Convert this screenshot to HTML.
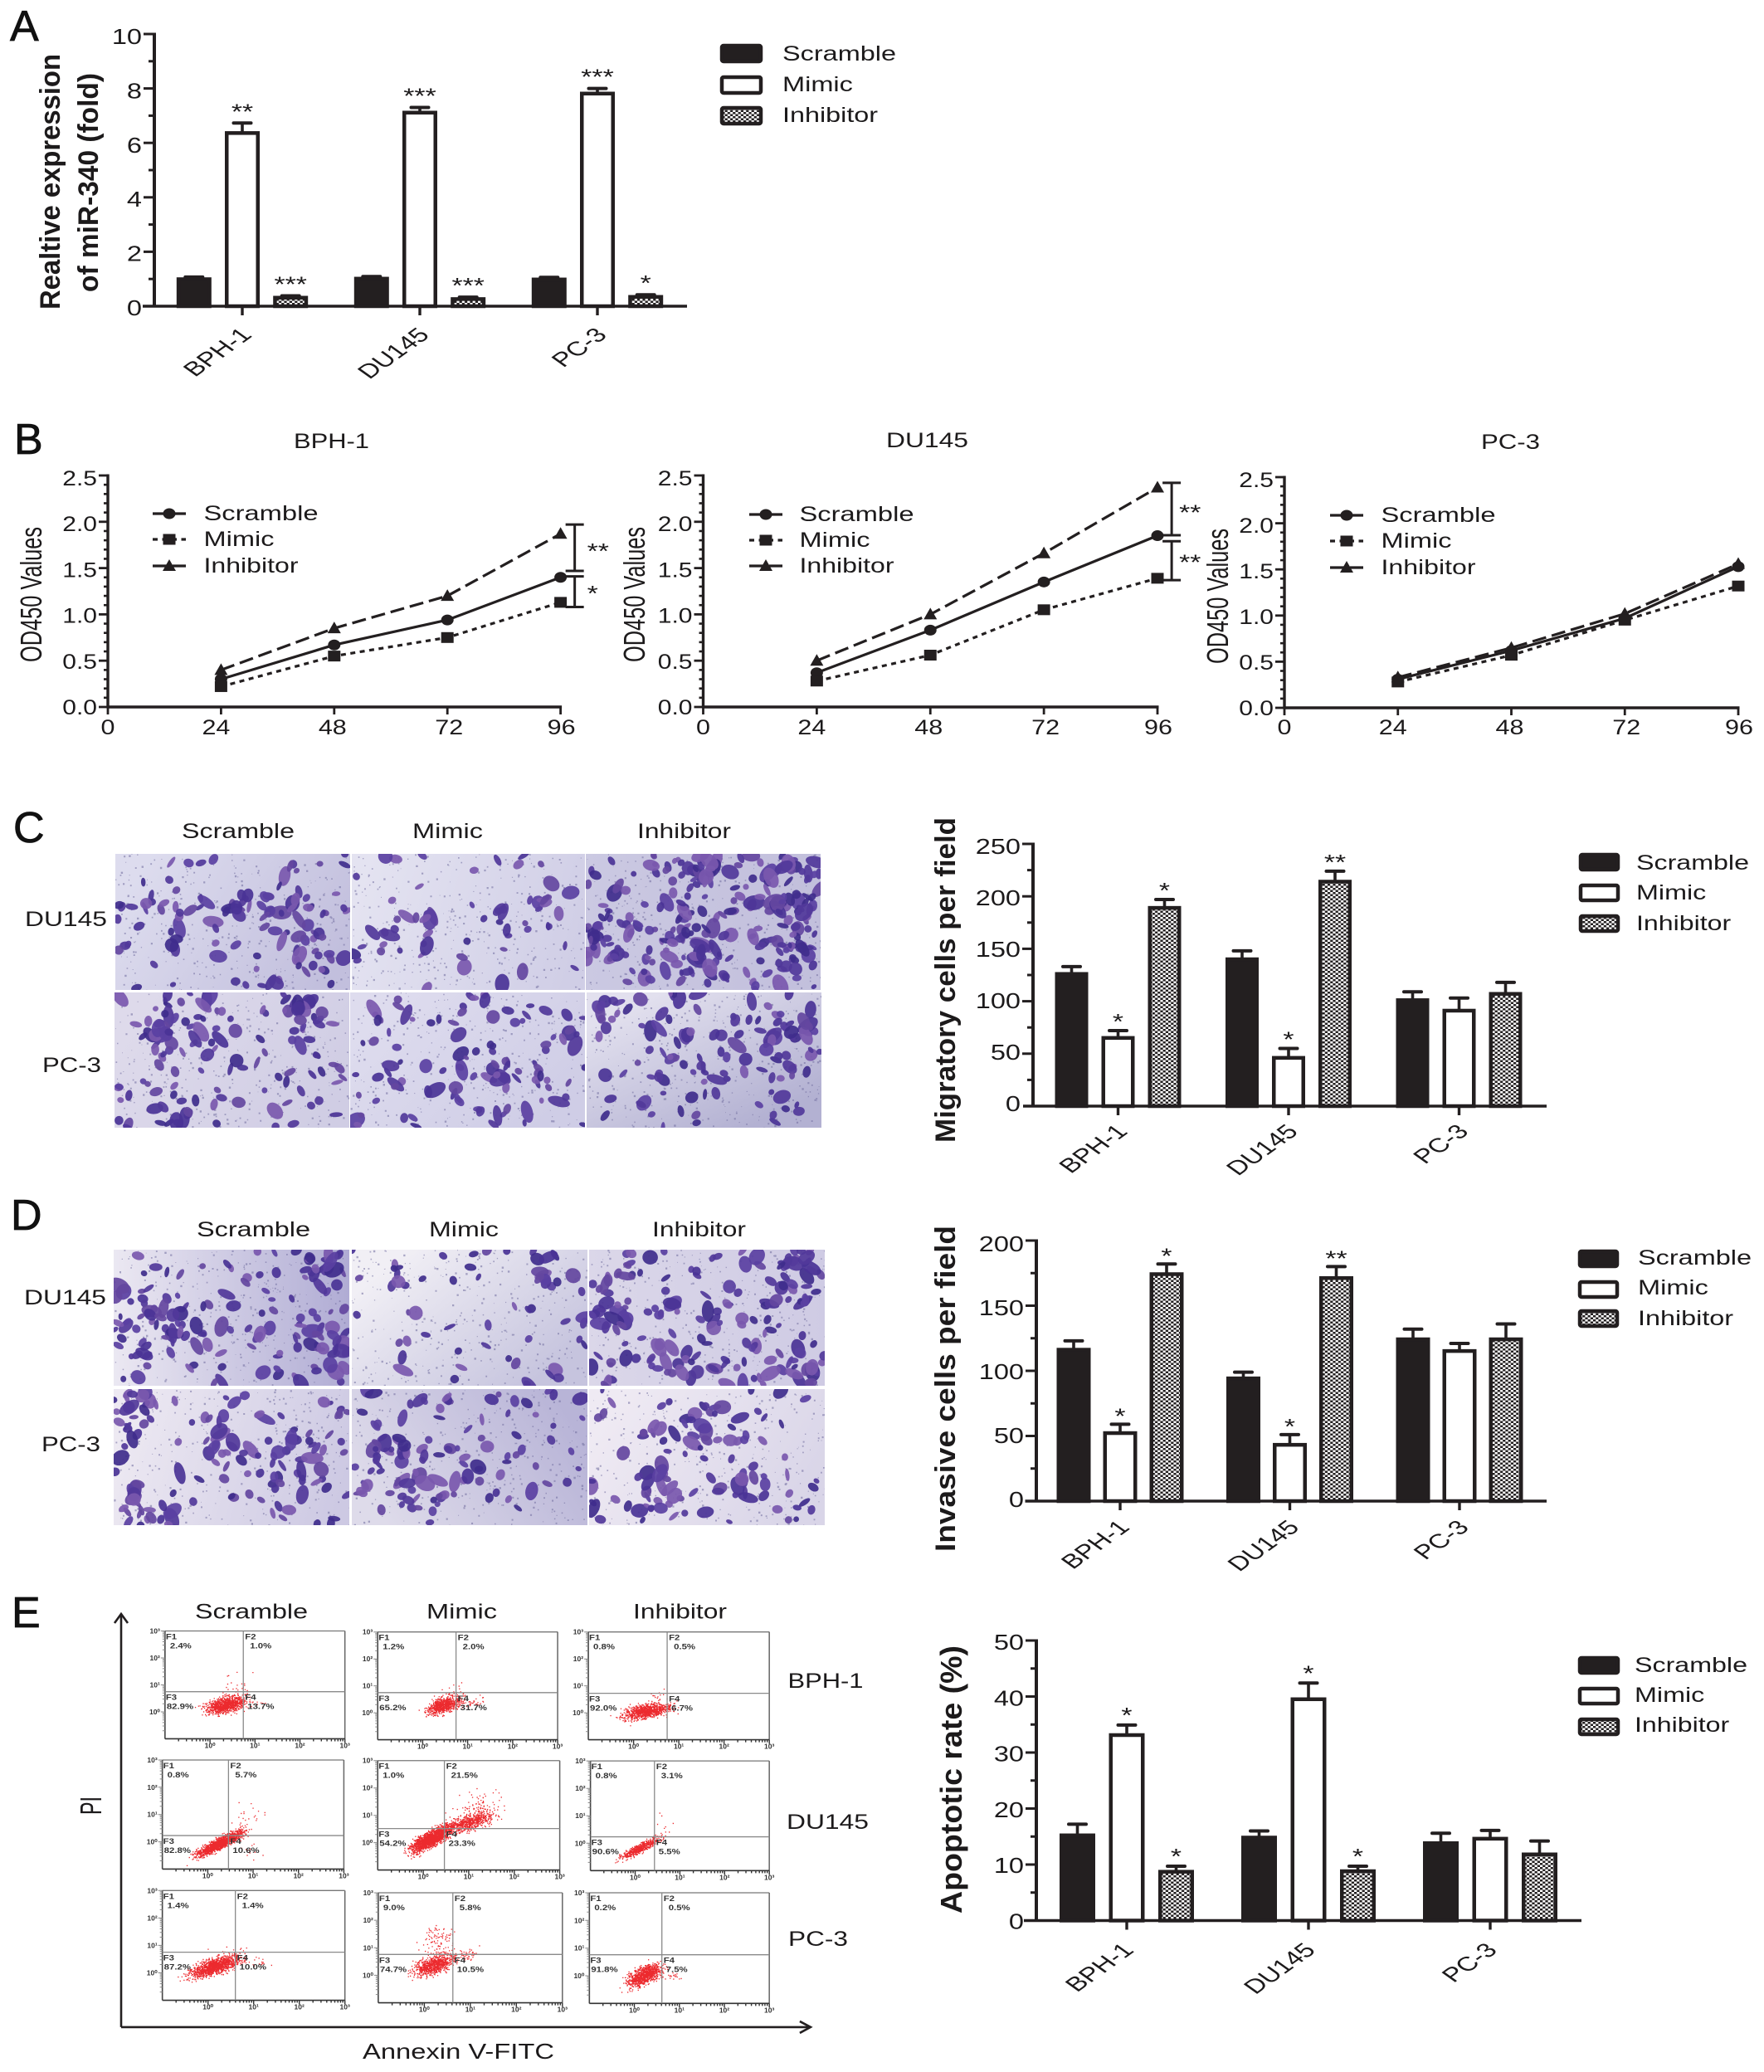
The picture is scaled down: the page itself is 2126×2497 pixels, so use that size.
<!DOCTYPE html>
<html lang="en">
<head>
<meta charset="utf-8">
<title>miR-340 multi-panel figure</title>
<style>
html,body{margin:0;padding:0;background:#fff;}
svg{display:block;font-family:"Liberation Sans",Arial,sans-serif;}
</style>
</head>
<body>
<svg id="figure" xmlns="http://www.w3.org/2000/svg" width="2126" height="2497" viewBox="0 0 2126 2497">
<defs>
<pattern id="checker" width="6.4" height="5" patternUnits="userSpaceOnUse">
<rect width="6.4" height="5" fill="#ffffff"/>
<rect width="3.2" height="2.5" fill="#231f20"/>
<rect x="3.2" y="2.5" width="3.2" height="2.5" fill="#231f20"/>
</pattern>
</defs>
<rect width="2126" height="2497" fill="#ffffff"/>
</svg>
<script>
// ---------- chart data ----------
const cellLines = ['BPH-1', 'DU145', 'PC-3'];
const treatments = ['Scramble', 'Mimic', 'Inhibitor'];

const expressionTicks = ['0', '2', '4', '6', '8', '10'];
const expressionScramble = [1.03, 1.05, 1.02];
const expressionMimic = [6.4, 7.15, 7.85];
const expressionInhibitor = [0.35, 0.3, 0.38];
const expressionScrambleErr = [0.04, 0.04, 0.04];
const expressionMimicErr = [0.33, 0.15, 0.15];
const expressionInhibitorErr = [0.03, 0.03, 0.04];
const expressionMimicStars = ['**', '***', '***'];
const expressionInhibitorStars = ['***', '***', '*'];

const migrationTicks = ['0', '50', '100', '150', '200', '250'];
const migrationScramble = [127, 141, 102];
const migrationMimic = [66, 47, 92];
const migrationInhibitor = [190, 215, 108];
const migrationScrambleErr = [6, 7, 7];
const migrationMimicErr = [6, 8, 11];
const migrationInhibitorErr = [7, 9, 10];
const migrationMimicStars = ['*', '*', ''];
const migrationInhibitorStars = ['*', '**', ''];

const invasionTicks = ['0', '50', '100', '150', '200'];
const invasionScramble = [117, 95, 125];
const invasionMimic = [53, 44, 116];
const invasionInhibitor = [175, 172, 125];
const invasionScrambleErr = [6, 4, 7];
const invasionMimicErr = [6, 7, 5];
const invasionInhibitorErr = [7, 8, 11];
const invasionMimicStars = ['*', '*', ''];
const invasionInhibitorStars = ['*', '**', ''];

const apoptosisTicks = ['0', '10', '20', '30', '40', '50'];
const apoptosisScramble = [15.4, 15, 14];
const apoptosisMimic = [33.3, 39.7, 14.8];
const apoptosisInhibitor = [8.9, 9, 12];
const apoptosisScrambleErr = [1.8, 1, 1.6];
const apoptosisMimicErr = [1.6, 2.7, 1.3];
const apoptosisInhibitorErr = [0.8, 0.7, 2.2];
const apoptosisMimicStars = ['*', '*', ''];
const apoptosisInhibitorStars = ['*', '*', ''];

const hours = [24, 48, 72, 96];
const hourTicks = ['0', '24', '48', '72', '96'];
const odTicks = ['0.0', '0.5', '1.0', '1.5', '2.0', '2.5'];
const odBphScramble = [0.3, 0.67, 0.94, 1.4];
const odBphMimic = [0.22, 0.55, 0.75, 1.13];
const odBphInhibitor = [0.4, 0.85, 1.2, 1.87];
const odDuScramble = [0.37, 0.83, 1.35, 1.85];
const odDuMimic = [0.28, 0.56, 1.05, 1.39];
const odDuInhibitor = [0.5, 1.0, 1.66, 2.37];
const odPcScramble = [0.31, 0.62, 0.97, 1.53];
const odPcMimic = [0.28, 0.57, 0.95, 1.32];
const odPcInhibitor = [0.33, 0.65, 1.02, 1.56];
const bphBrackets = [1.97, 1.47, 1.41, 1.08];
const duBrackets = [2.42, 1.855, 1.79, 1.37];

const flowBph = [['2.4%','1.0%','82.9%','13.7%'],['1.2%','2.0%','65.2%','31.7%'],['0.8%','0.5%','92.0%','6.7%']];
const flowDu = [['0.8%','5.7%','82.8%','10.6%'],['1.0%','21.5%','54.2%','23.3%'],['0.8%','3.1%','90.6%','5.5%']];
const flowPc = [['1.4%','1.4%','87.2%','10.0%'],['9.0%','5.8%','74.7%','10.5%'],['0.2%','0.5%','91.8%','7.5%']];

// ---------- helpers ----------
const NS = 'http://www.w3.org/2000/svg';
const root = document.getElementById('figure');
const INK = '#231f20';

function make(parent, tag, attrs, name) {
  const node = document.createElementNS(NS, tag);
  for (const k in attrs) node.setAttribute(k, attrs[k]);
  if (name) {
    
    
  }
  parent.appendChild(node);
  return node;
}
function group(parent, name) { return make(parent, 'g', {}, name); }

// horizontally stretched text, like the reference artwork
function label(parent, name, str, x, y, size, opts) {
  opts = opts || {};
  const a = { 'font-size': size, fill: opts.fill || '#1c1a1b' };
  if (opts.bold) a['font-weight'] = 'bold';
  if (opts.anchor) a['text-anchor'] = opts.anchor;
  if (opts.len) { a.textLength = opts.len; a.lengthAdjust = 'spacingAndGlyphs'; }
  if (opts.stroke) { a.stroke = a.fill; a['stroke-width'] = opts.stroke; }
  let tf = 'translate(' + x + ' ' + y + ')';
  if (opts.sx) tf += ' scale(' + opts.sx + ' 1)';
  if (opts.rot) tf += ' rotate(' + opts.rot + ')';
  a.transform = tf;
  const t = make(parent, 'text', a, name);
  t.textContent = str;
  return t;
}
function hline(parent, name, x1, y1, x2, y2, w, color, extra) {
  const a = { x1: x1, y1: y1, x2: x2, y2: y2, stroke: color || INK, 'stroke-width': w };
  if (extra) for (const k in extra) a[k] = extra[k];
  return make(parent, 'line', a, name);
}

function legendBars(parent, swX, swW, swH, textX, textLen, rows) {
  const g = group(parent, 'legend');
  const fills = [INK, '#ffffff', 'url(#checker)'];
  treatments.forEach(function (tr, i) {
    make(g, 'rect', { x: swX + 2, y: rows[i][0] + 2, width: swW - 4, height: swH - 4, rx: 2, fill: fills[i], stroke: INK, 'stroke-width': 4.5 }, 'legend-swatch-' + tr.toLowerCase());
    const lens = [textLen, textLen * 0.62, textLen * 0.84];
    label(g, 'legend-label-' + tr.toLowerCase(), tr, textX, rows[i][1], 25, { len: lens[i] });
  });
}

function barChart(c) {
  const g = group(root, c.name);
  const y = function (v) { return c.y0 - (v / c.max) * (c.y0 - c.yTop); };
  const catX = function (i) { return c.firstCat + i * c.catStep; };
  const barX = function (i, s) { return catX(i) + (s - 1) * c.barStep; };
  const fills = [INK, '#ffffff', 'url(#checker)'];

  c.series.forEach(function (vals, s) {
    vals.forEach(function (v, i) {
      const cx = barX(i, s), top = y(v), errTop = y(v + c.errs[s][i]);
      const sw = 4.5;
      hline(g, 'error-stem-' + treatments[s].toLowerCase(), cx, top, cx, errTop, 3.6);
      hline(g, 'error-cap-' + treatments[s].toLowerCase(), cx - 10.5, errTop, cx + 10.5, errTop, 4, INK, { 'stroke-linecap': 'round' });
      make(g, 'rect', { x: cx - c.barW / 2 + sw / 2, y: top + sw / 2 - 1, width: c.barW - sw, height: c.y0 - top - sw / 2 + 1, fill: fills[s], stroke: INK, 'stroke-width': sw }, 'bar-' + treatments[s].toLowerCase() + '-' + cellLines[i].toLowerCase());
      const star = c.stars[s] ? c.stars[s][i] : '';
      if (star) label(g, 'significance-star', star, cx, errTop + c.starDy, 26, { anchor: 'middle', sx: 1.3 });
    });
  });

  // axes
  hline(g, 'y-axis', c.axisX, c.yTop - 1.5, c.axisX, c.y0 + 1.5, 4);
  hline(g, 'x-axis', c.xLeft, c.y0, c.xRight, c.y0, 3.6);
  const last = c.ticks.length - 1;
  c.ticks.forEach(function (t, i) {
    const val = parseFloat(t), py = y(val);
    if (i > 0) hline(g, 'y-tick', c.axisX - 13, py, c.axisX, py, 3);
    if (i < last) {
      const mid = y((val + parseFloat(c.ticks[i + 1])) / 2);
      hline(g, 'y-minor-tick', c.axisX - 7, mid, c.axisX, mid, 3);
    }
    const off = c.lblOff[0] + (c.lblOff[1] - c.lblOff[0]) * (i / last);
    label(g, 'y-tick-label', t, c.axisX - 15, py + off, 26, { anchor: 'end', sx: 1.25 });
  });
  cellLines.forEach(function (n, i) {
    const tx = catX(i);
    hline(g, 'x-tick', tx, c.y0, tx, c.y0 + 11, 3.4);
    label(g, 'x-tick-label-' + n.toLowerCase(), n, tx + c.catDx, c.y0 + c.catDrop, 24, { anchor: 'end', sx: 1.4, rot: -45 });
  });
  c.title.forEach(function (tl) {
    label(g, 'y-axis-title', tl[0], tl[1], tl[2], tl[4] || 34, { bold: true, rot: -90, len: tl[3] });
  });
  legendBars(g, c.leg[0], c.leg[1], c.leg[2], c.leg[3], c.leg[4], c.leg[5]);
}

function marker(parent, kind, x, y, name) {
  if (kind === 0) return make(parent, 'ellipse', { cx: x, cy: y, rx: 7.5, ry: 6.5, fill: INK }, name);
  if (kind === 1) return make(parent, 'rect', { x: x - 7.5, y: y - 6.5, width: 15, height: 13, fill: INK }, name);
  return make(parent, 'polygon', { points: (x - 8) + ',' + (y + 6) + ' ' + (x + 8) + ',' + (y + 6) + ' ' + x + ',' + (y - 8), fill: INK }, name);
}

function lineChart(c) {
  const g = group(root, c.name);
  const xS = function (h) { return c.x0 + (h / 96) * (c.x96 - c.x0); };
  const yS = function (v) { return c.y0 - (v / 2.5) * (c.y0 - c.yTop); };
  const dashes = ['none', '6 5.5', '17 7'];
  [2, 0, 1].forEach(function (s) {
    const vals = c.series[s];
    const d = vals.map(function (v, i) { return (i ? 'L' : 'M') + xS(hours[i]) + ' ' + yS(v); }).join(' ');
    make(g, 'path', { d: d, fill: 'none', stroke: INK, 'stroke-width': 3.2, 'stroke-dasharray': dashes[s] }, 'line-' + treatments[s].toLowerCase());
    vals.forEach(function (v, i) { marker(g, s, xS(hours[i]), yS(v), 'point-' + treatments[s].toLowerCase() + '-' + hours[i] + 'h'); });
  });
  hline(g, 'y-axis', c.x0, c.yTop - 1.5, c.x0, c.y0 + 1.5, 3.4);
  hline(g, 'x-axis', c.x0 - 1, c.y0, c.x96 + 1.5, c.y0, 3.4);
  for (let k = 0; k <= 25; k++) {
    if (k % 5 === 0) continue;
    const py = yS(k / 10);
    hline(g, 'y-minor-tick', c.x0 - 5, py, c.x0, py, 2.6);
  }
  odTicks.forEach(function (t, i) {
    const py = yS(parseFloat(t));
    hline(g, 'y-tick', c.x0 - 11, py, c.x0, py, 2.8);
    label(g, 'y-tick-label', t, c.x0 - 13, py + 9 + 3 * (i / 5), 25, { anchor: 'end', sx: 1.2 });
  });
  const labelNudges = [0, -6, -2, 2, 1];
  hourTicks.forEach(function (t, i) {
    const px = xS(parseFloat(t));
    hline(g, 'x-tick', px, c.y0, px, c.y0 + 9, 2.8);
    label(g, 'x-tick-label', t, px + labelNudges[i], 885, 25, { anchor: 'middle', sx: 1.22 });
  });
  label(g, 'chart-title', c.title, c.titleX, c.titleY, 25, { len: c.titleLen });
  label(g, 'y-axis-title', 'OD450 Values', c.yTitleX, c.yTitleY, 36, { rot: -90, len: 163 });
  // legend
  const lg = group(g, 'legend');
  treatments.forEach(function (tr, i) {
    const ly = c.legY[i];
    hline(lg, 'legend-line-' + tr.toLowerCase(), c.legX, ly, c.legX + 40, ly, 3.2, INK, { 'stroke-dasharray': dashes[i] });
    marker(lg, i, c.legX + 20, ly, 'legend-marker-' + tr.toLowerCase());
    const lens = [138, 85, 114];
    label(lg, 'legend-label-' + tr.toLowerCase(), tr, c.legTextX, ly + 8, 25, { len: lens[i] });
  });
  if (c.brackets) {
    const bx = xS(99);
    [[0, 1], [2, 3]].forEach(function (p, i) {
      const a = yS(c.brackets[p[0]]), b = yS(c.brackets[p[1]]);
      hline(g, 'significance-bracket', bx, a, bx, b, 3);
      hline(g, 'significance-bracket-cap', bx - 11, a, bx + 11, a, 3);
      hline(g, 'significance-bracket-cap', bx - 11, b, bx + 11, b, 3);
      label(g, 'significance-star', c.bracketStars[i], bx + c.starOff, (a + b) / 2 + 17 - (i ? 6 : 4), 26, { sx: 1.3 });
    });
  }
}

// deterministic texture generator for the photo-like panels
function Speckle(seed) {
  let s = seed >>> 0;
  return function () { s = (Math.imul(s, 1664525) + 1013904223) >>> 0; return s / 4294967296; };
}
const BLOBS = ['#51389a', '#5a40a2', '#3f2c8c', '#64479f', '#7a58ae', '#4a3396'];

function micrograph(parent, name, seed, x, y, w, h, c1, c2, angle, count, clusters) {
  const r = Speckle(seed);
  const g = group(parent, name);
  const id = 'mg' + seed;
  const defs = root.querySelector('defs');
  const rad = angle * Math.PI / 180;
  const lg = make(defs, 'linearGradient', { id: 'g' + id, x1: 0.5 - Math.cos(rad) / 2, y1: 0.5 - Math.sin(rad) / 2, x2: 0.5 + Math.cos(rad) / 2, y2: 0.5 + Math.sin(rad) / 2 });
  make(lg, 'stop', { offset: '0', 'stop-color': c1 });
  make(lg, 'stop', { offset: '1', 'stop-color': c2 });
  const cp = make(defs, 'clipPath', { id: 'c' + id });
  make(cp, 'rect', { x: x, y: y, width: w, height: h });
  make(g, 'rect', { x: x, y: y, width: w, height: h, fill: 'url(#g' + id + ')' });
  const inner = make(g, 'g', { 'clip-path': 'url(#c' + id + ')' });
  let d = '';
  for (let i = 0; i < w * h / 120; i++) {
    const px = x + r() * w, py = y + r() * h, sz = 0.8 + r() * 1.6;
    d += 'M' + px.toFixed(1) + ' ' + py.toFixed(1) + 'h' + sz.toFixed(1) + 'v' + sz.toFixed(1) + 'h-' + sz.toFixed(1) + 'z';
  }
  make(inner, 'path', { d: d, fill: '#6d6a9c', opacity: 0.55 });
  function blob(px, py, big) {
    const rx = big ? 6 + r() * 6 : 3 + r() * 4;
    const ry = big ? 5 + r() * 4 : 2.5 + r() * 3;
    make(inner, 'ellipse', { cx: 0, cy: 0, rx: rx * 1.15, ry: ry, fill: BLOBS[Math.floor(r() * BLOBS.length)], opacity: 0.92, transform: 'translate(' + px.toFixed(1) + ' ' + py.toFixed(1) + ') rotate(' + Math.floor(r() * 180) + ')' });
  }
  for (let i = 0; i < count * 1.5; i++) blob(x + r() * w, y + r() * h, r() < 0.2);
  clusters.forEach(function (k) {
    for (let i = 0; i < k[4] * 1.5; i++) {
      const a = r() * 6.283, m = Math.sqrt(r());
      blob(x + (k[0] + Math.cos(a) * m * k[2]) * w, y + (k[1] + Math.sin(a) * m * k[3]) * h, r() < 0.35);
    }
  });
}

// ---------- panel letters ----------
const lettersG = group(root, 'panel-letters');
[['A', 12, 49], ['B', 17, 547], ['C', 16, 1015], ['D', 13, 1482], ['E', 14, 1961]].forEach(function (p) {
  label(lettersG, 'panel-letter-' + p[0].toLowerCase(), p[0], p[1], p[2], 52, { stroke: 0.8, fill: '#111' });
});

// ---------- Panel A ----------
barChart({
  name: 'panel-a-expression-chart', y0: 369, yTop: 41, max: 10, axisX: 186, xLeft: 172, xRight: 828,
  firstCat: 292, catStep: 214, barStep: 58.2, barW: 42, catDrop: 36, catDx: 13, starDy: -5, lblOff: [11, 12],
  series: [expressionScramble, expressionMimic, expressionInhibitor],
  errs: [expressionScrambleErr, expressionMimicErr, expressionInhibitorErr],
  stars: [null, expressionMimicStars, expressionInhibitorStars],
  ticks: expressionTicks,
  title: [['Realtive expression', 72, 373, 308], ['of miR-340 (fold)', 118, 352, 264]],
  leg: [868, 51, 23, 943, 137, [[53, 73], [91, 110], [128, 147]]]
});

// ---------- Panel B ----------
lineChart({
  name: 'panel-b-bph1-chart', x0: 130, x96: 675.6, y0: 852, yTop: 573,
  series: [odBphScramble, odBphMimic, odBphInhibitor],
  title: 'BPH-1', titleX: 354, titleY: 540, titleLen: 91,
  yTitleX: 50, yTitleY: 798, legX: 184, legTextX: 245.5, legY: [619, 650, 682],
  brackets: bphBrackets, bracketStars: ['**', '*'], starOff: 15
});
lineChart({
  name: 'panel-b-du145-chart', x0: 847.5, x96: 1395, y0: 852, yTop: 573,
  series: [odDuScramble, odDuMimic, odDuInhibitor],
  title: 'DU145', titleX: 1068, titleY: 539, titleLen: 99,
  yTitleX: 777, yTitleY: 798, legX: 903, legTextX: 963.5, legY: [620, 651, 682],
  brackets: duBrackets, bracketStars: ['**', '**'], starOff: 9
});
lineChart({
  name: 'panel-b-pc3-chart', x0: 1548, x96: 2095, y0: 853, yTop: 575,
  series: [odPcScramble, odPcMimic, odPcInhibitor],
  title: 'PC-3', titleX: 1785, titleY: 541, titleLen: 71,
  yTitleX: 1480, yTitleY: 800, legX: 1603, legTextX: 1664.5, legY: [621, 652, 684]
});

// ---------- Panel C micrographs ----------
const cGrid = group(root, 'panel-c-micrographs');
micrograph(cGrid, 'micrograph-c-du145-scramble', 11, 139, 1029, 283, 164, '#dddcee', '#c2bfdd', 20, 48, [[.66, .42, .2, .16, 14], [.85, .72, .1, .16, 9], [.2, .42, .12, .1, 5]]);
micrograph(cGrid, 'micrograph-c-du145-mimic', 12, 424, 1029, 281, 164, '#e4e3f1', '#d0cee6', 10, 26, [[.75, .42, .15, .15, 9], [.1, .65, .1, .1, 3], [.3, .5, .05, .2, 5]]);
micrograph(cGrid, 'micrograph-c-du145-inhibitor', 13, 706, 1029, 283, 164, '#cbc9e2', '#c2bfdc', 0, 95, [[.1, .6, .1, .2, 16], [.45, .7, .12, .2, 20], [.45, .12, .12, .12, 12], [.88, .3, .12, .25, 22], [.88, .7, .08, .15, 10]]);
micrograph(cGrid, 'micrograph-c-pc3-scramble', 14, 138, 1196, 283, 163, '#dedaeb', '#d0cde4', 20, 50, [[.3, .25, .2, .25, 22], [.75, .2, .15, .2, 10], [.25, .8, .1, .2, 5]]);
micrograph(cGrid, 'micrograph-c-pc3-mimic', 15, 422, 1196, 283, 163, '#dedcee', '#cfcde6', 30, 58, [[.2, .55, .1, .15, 5], [.55, .6, .2, .2, 8]]);
micrograph(cGrid, 'micrograph-c-pc3-inhibitor', 16, 707, 1196, 283, 163, '#e2e0ee', '#b3b1d2', 50, 50, [[.4, .5, .2, .3, 14], [.85, .35, .12, .2, 12], [.08, .15, .06, .12, 5]]);
const cLabels = group(root, 'panel-c-labels');
label(cLabels, 'column-label-scramble', 'Scramble', 219, 1010, 25, { len: 136 });
label(cLabels, 'column-label-mimic', 'Mimic', 497, 1010, 25, { len: 85 });
label(cLabels, 'column-label-inhibitor', 'Inhibitor', 768, 1010, 25, { len: 113 });
label(cLabels, 'row-label-du145', 'DU145', 30, 1116, 25, { len: 99 });
label(cLabels, 'row-label-pc3', 'PC-3', 51, 1292, 25, { len: 71 });

barChart({
  name: 'panel-c-migration-chart', y0: 1333, yTop: 1017, max: 250, axisX: 1245, xLeft: 1233, xRight: 1864,
  firstCat: 1347.5, catStep: 205.5, barStep: 56, barW: 40, catDrop: 32, catDx: 13, starDy: -2, lblOff: [6, 12],
  series: [migrationScramble, migrationMimic, migrationInhibitor],
  errs: [migrationScrambleErr, migrationMimicErr, migrationInhibitorErr],
  stars: [null, migrationMimicStars, migrationInhibitorStars],
  ticks: migrationTicks,
  title: [['Migratory cells per field', 1151, 1377, 392]],
  leg: [1903, 49, 22, 1972, 136, [[1028, 1048], [1065, 1084], [1102, 1121]]]
});

// ---------- Panel D micrographs ----------
const dGrid = group(root, 'panel-d-micrographs');
micrograph(dGrid, 'micrograph-d-du145-scramble', 21, 137, 1506, 284, 164, '#ebe8f2', '#b0acd4', 0, 58, [[.88, .15, .1, .18, 12], [.85, .7, .1, .25, 12], [.12, .55, .12, .3, 14], [.3, .55, .1, .12, 6]]);
micrograph(dGrid, 'micrograph-d-du145-mimic', 22, 424, 1506, 284, 164, '#f1eff5', '#c6c4de', 35, 30, [[.88, .15, .1, .12, 6], [.2, .18, .06, .1, 4]]);
micrograph(dGrid, 'micrograph-d-du145-inhibitor', 23, 710, 1506, 284, 164, '#dbd7e9', '#cfcbe4', 0, 80, [[.1, .4, .08, .2, 10], [.9, .2, .1, .2, 14], [.92, .8, .08, .2, 8], [.35, .8, .1, .15, 6]]);
micrograph(dGrid, 'micrograph-d-pc3-scramble', 24, 137, 1674, 284, 164, '#ede9f2', '#cdc9e3', 10, 55, [[.45, .35, .08, .2, 6], [.78, .55, .12, .25, 12], [.15, .85, .12, .2, 10], [.1, .1, .05, .15, 5]]);
micrograph(dGrid, 'micrograph-d-pc3-mimic', 25, 424, 1674, 284, 164, '#dedbea', '#b8b4d7', 340, 55, [[.18, .45, .1, .12, 9], [.3, .72, .12, .2, 10]]);
micrograph(dGrid, 'micrograph-d-pc3-inhibitor', 26, 710, 1674, 284, 164, '#efeaf3', '#d9d5e8', 20, 48, [[.55, .3, .18, .2, 10], [.28, .75, .12, .15, 9], [.68, .75, .1, .15, 6]]);
const dLabels = group(root, 'panel-d-labels');
label(dLabels, 'column-label-scramble', 'Scramble', 237, 1490, 25, { len: 137 });
label(dLabels, 'column-label-mimic', 'Mimic', 517, 1490, 25, { len: 84 });
label(dLabels, 'column-label-inhibitor', 'Inhibitor', 786, 1490, 25, { len: 113 });
label(dLabels, 'row-label-du145', 'DU145', 29, 1572, 25, { len: 99 });
label(dLabels, 'row-label-pc3', 'PC-3', 50, 1749, 25, { len: 71 });

barChart({
  name: 'panel-d-invasion-chart', y0: 1809, yTop: 1495, max: 200, axisX: 1249, xLeft: 1235.5, xRight: 1864,
  firstCat: 1350, catStep: 204.5, barStep: 56, barW: 41, catDrop: 33, catDx: 13, starDy: -1, lblOff: [7, 13],
  series: [invasionScramble, invasionMimic, invasionInhibitor],
  errs: [invasionScrambleErr, invasionMimicErr, invasionInhibitorErr],
  stars: [null, invasionMimicStars, invasionInhibitorStars],
  ticks: invasionTicks,
  title: [['Invasive cells per field', 1151, 1870, 393]],
  leg: [1902, 49, 22, 1974, 137, [[1506, 1524], [1543, 1560], [1578, 1597]]]
});

// ---------- Panel E flow cytometry ----------
const flowG = group(root, 'panel-e-flow-cytometry');
const fx = function (z) { return 100 + z / 1.568; };
const fy = function (z) { return 1900 + z * 0.381; };

function flowPlot(name, seed, zx0, zx1, zy0, zy1, zv, zh, pct, clouds) {
  const g = group(flowG, name);
  const x0 = fx(zx0), x1 = fx(zx1), y0 = fy(zy0), y1 = fy(zy1), vx = fx(zv), hy = fy(zh);
  const r = Speckle(seed);
  function gauss() { return (r() + r() + r() + r() - 2) * 1.73; }
  let d = '';
  clouds.forEach(function (c) {
    const ux = fx(c[2]) - fx(c[0]), uy = fy(c[3]) - fy(c[1]);
    const L = Math.sqrt(ux * ux + uy * uy) || 1;
    const dx = ux / L, dy = uy / L;
    const mx = (fx(c[0]) + fx(c[2])) / 2, my = (fy(c[1]) + fy(c[3])) / 2;
    for (let i = 0; i < c[5]; i++) {
      const a = gauss() * L * 0.26, b = gauss() * c[4];
      const px = mx + a * dx - b * dy, py = my + a * dy + b * dx;
      if (px < x0 || px > x1 || py < y0 || py > y1) continue;
      d += 'M' + px.toFixed(1) + ' ' + py.toFixed(1) + 'h1.3v1.3h-1.3z';
    }
  });
  make(g, 'rect', { x: x0, y: y0, width: x1 - x0, height: y1 - y0, fill: '#fff' }, 'plot-area');
  make(g, 'path', { d: d, fill: '#ec2a2e' }, 'event-dots');
  hline(g, 'plot-top-border', x0, y0, x1, y0, 1.3, '#777');
  hline(g, 'plot-right-border', x1, y0, x1, y1, 1.5, '#666');
  hline(g, 'plot-left-axis', x0, y0, x0, y1, 1.6, '#444');
  hline(g, 'plot-bottom-axis', x0, y1, x1, y1, 1.6, '#333');
  hline(g, 'quadrant-vertical', vx, y0, vx, y1, 1.3, '#8a8a8a');
  hline(g, 'quadrant-horizontal', x0, hy, x1, hy, 1.3, '#8a8a8a');
  const w = x1 - x0, h = y1 - y0;
  const exps = ['\u2070', '\u00b9', '\u00b2', '\u00b3'];
  let ticks = '', lticks = '';
  for (let dec = 0; dec < 4; dec++) {
    const base = x0 + w * dec * 0.25;
    const baseY = y1 - h * dec * 0.25;
    for (let m = 2; m <= 10; m++) {
      const tx = base + w * 0.25 * Math.log10(m);
      ticks += 'M' + tx.toFixed(1) + ' ' + y1 + 'v' + (m === 10 ? 5 : 3);
      const ty = baseY - h * 0.25 * Math.log10(m);
      lticks += 'M' + x0 + ' ' + ty.toFixed(1) + 'h-' + (m === 10 ? 5 : 3);
    }
    label(g, 'x-tick-label', '10' + exps[dec], x0 + w * (dec + 1) * 0.25, y1 + 11, 8.5, { anchor: 'middle', bold: true, fill: '#333' });
    label(g, 'y-tick-label', '10' + exps[3 - dec], x0 - 6, y0 + h * dec * 0.25 + 3, 8.5, { anchor: 'end', bold: true, fill: '#333' });
  }
  make(g, 'path', { d: ticks, stroke: '#333', 'stroke-width': 1.4, fill: 'none' }, 'x-axis-ticks');
  make(g, 'path', { d: lticks, stroke: '#888', 'stroke-width': 1, fill: 'none' }, 'y-axis-ticks');
  const tOpts = { bold: true, sx: 1.2, fill: '#333' };
  label(g, 'gate-f1', 'F1', x0 + 1, y0 + 10, 9.5, tOpts);
  label(g, 'gate-f1-percent', pct[0], x0 + 6, y0 + 21, 9.5, tOpts);
  label(g, 'gate-f2', 'F2', vx + 2, y0 + 10, 9.5, tOpts);
  label(g, 'gate-f2-percent', pct[1], vx + 8, y0 + 21, 9.5, tOpts);
  label(g, 'gate-f3', 'F3', x0 + 1, hy + 10, 9.5, tOpts);
  label(g, 'gate-f3-percent', pct[2], x0 + 2, hy + 21, 9.5, tOpts);
  label(g, 'gate-f4', 'F4', vx + 2, hy + 10, 9.5, tOpts);
  label(g, 'gate-f4-percent', pct[3], vx + 5, hy + 21, 9.5, tOpts);
}

flowPlot('flow-bph1-scramble', 31, 155, 495, 172, 513, 303, 364, flowBph[0], [[235, 418, 303, 392, 4.5, 1000], [255, 400, 315, 335, 9, 45], [300, 410, 350, 400, 3.5, 12]]);
flowPlot('flow-bph1-mimic', 32, 557, 897, 175, 516, 705, 367, flowBph[1], [[652, 420, 708, 392, 4.2, 750], [660, 410, 715, 345, 8, 40], [710, 395, 760, 395, 3, 35]]);
flowPlot('flow-bph1-inhibitor', 33, 955, 1297, 175, 516, 1104, 369, flowBph[2], [[1022, 438, 1105, 412, 4, 950], [1060, 420, 1105, 360, 6, 25]]);
flowPlot('flow-du145-scramble', 34, 150, 493, 580, 925, 275, 819, flowDu[0], [[218, 878, 298, 808, 3, 1500], [280, 800, 345, 725, 8, 22], [285, 850, 340, 880, 6, 12]]);
flowPlot('flow-du145-mimic', 35, 557, 901, 582, 928, 683, 797, flowDu[1], [[622, 862, 692, 795, 4.2, 1800], [685, 802, 772, 755, 4.5, 650], [695, 765, 780, 710, 9, 110]]);
flowPlot('flow-du145-inhibitor', 36, 959, 1297, 583, 930, 1080, 823, flowDu[2], [[1018, 888, 1088, 825, 2.6, 550], [1070, 815, 1105, 760, 5, 8]]);
flowPlot('flow-pc3-scramble', 37, 150, 495, 993, 1340, 288, 1188, flowPc[0], [[205, 1255, 293, 1208, 4.5, 1250], [298, 1212, 350, 1222, 3, 18], [230, 1190, 295, 1175, 5, 10]]);
flowPlot('flow-pc3-mimic', 38, 558, 906, 1000, 1348, 699, 1195, flowPc[1], [[628, 1248, 698, 1205, 5, 850], [645, 1180, 692, 1125, 9, 90], [700, 1200, 745, 1190, 4, 50]]);
flowPlot('flow-pc3-inhibitor', 39, 957, 1297, 1000, 1350, 1094, 1196, flowPc[2], [[1030, 1282, 1090, 1238, 5, 950], [1095, 1260, 1140, 1265, 3, 20]]);

// large flow axes
const arrows = group(root, 'panel-e-axes');
const axTop = fy(118), axBottom = fy(1425), axRight = fx(1375);
hline(arrows, 'pi-axis-arrow', 146, axTop, 146, axBottom, 2.6);
hline(arrows, 'annexin-axis-arrow', 146, axBottom, axRight, axBottom, 2.6);
make(arrows, 'path', { d: 'M138 ' + (axTop + 11) + 'L146 ' + axTop + 'L154 ' + (axTop + 11), fill: 'none', stroke: INK, 'stroke-width': 2.6 }, 'pi-arrow-head');
make(arrows, 'path', { d: 'M' + (axRight - 13) + ' ' + (axBottom - 7) + 'L' + axRight + ' ' + axBottom + 'L' + (axRight - 13) + ' ' + (axBottom + 7), fill: 'none', stroke: INK, 'stroke-width': 2.6 }, 'annexin-arrow-head');
const eLabels = group(root, 'panel-e-labels');
label(eLabels, 'column-label-scramble', 'Scramble', 235, fy(132), 25, { len: 136 });
label(eLabels, 'column-label-mimic', 'Mimic', 514, fy(132), 25, { len: 85 });
label(eLabels, 'column-label-inhibitor', 'Inhibitor', 763, fy(132), 25, { len: 113 });
label(eLabels, 'row-label-bph1', 'BPH-1', 949.5, fy(352), 25, { len: 91 });
label(eLabels, 'row-label-du145', 'DU145', 948, fy(798), 25, { len: 99 });
label(eLabels, 'row-label-pc3', 'PC-3', 950, fy(1168), 25, { len: 72 });
label(eLabels, 'x-axis-title-annexin', 'Annexin V-FITC', 437, fy(1525), 26, { len: 231 });
label(eLabels, 'y-axis-title-pi', 'PI', 122, 2187, 36, { rot: -90, len: 22 });

barChart({
  name: 'panel-e-apoptosis-chart', y0: 2314.5, yTop: 1977, max: 50, axisX: 1249, xLeft: 1234, xRight: 1906,
  firstCat: 1358, catStep: 219, barStep: 59.5, barW: 43, catDrop: 37, catDx: 10, starDy: -3, lblOff: [10, 11],
  series: [apoptosisScramble, apoptosisMimic, apoptosisInhibitor],
  errs: [apoptosisScrambleErr, apoptosisMimicErr, apoptosisInhibitorErr],
  stars: [null, apoptosisMimicStars, apoptosisInhibitorStars],
  ticks: apoptosisTicks,
  title: [['Apoptotic rate (%)', 1159, 2306, 323, 36]],
  leg: [1902, 50, 22, 1970, 136, [[1996, 2015], [2033, 2051], [2070, 2087]]]
});
</script>
</body>
</html>
